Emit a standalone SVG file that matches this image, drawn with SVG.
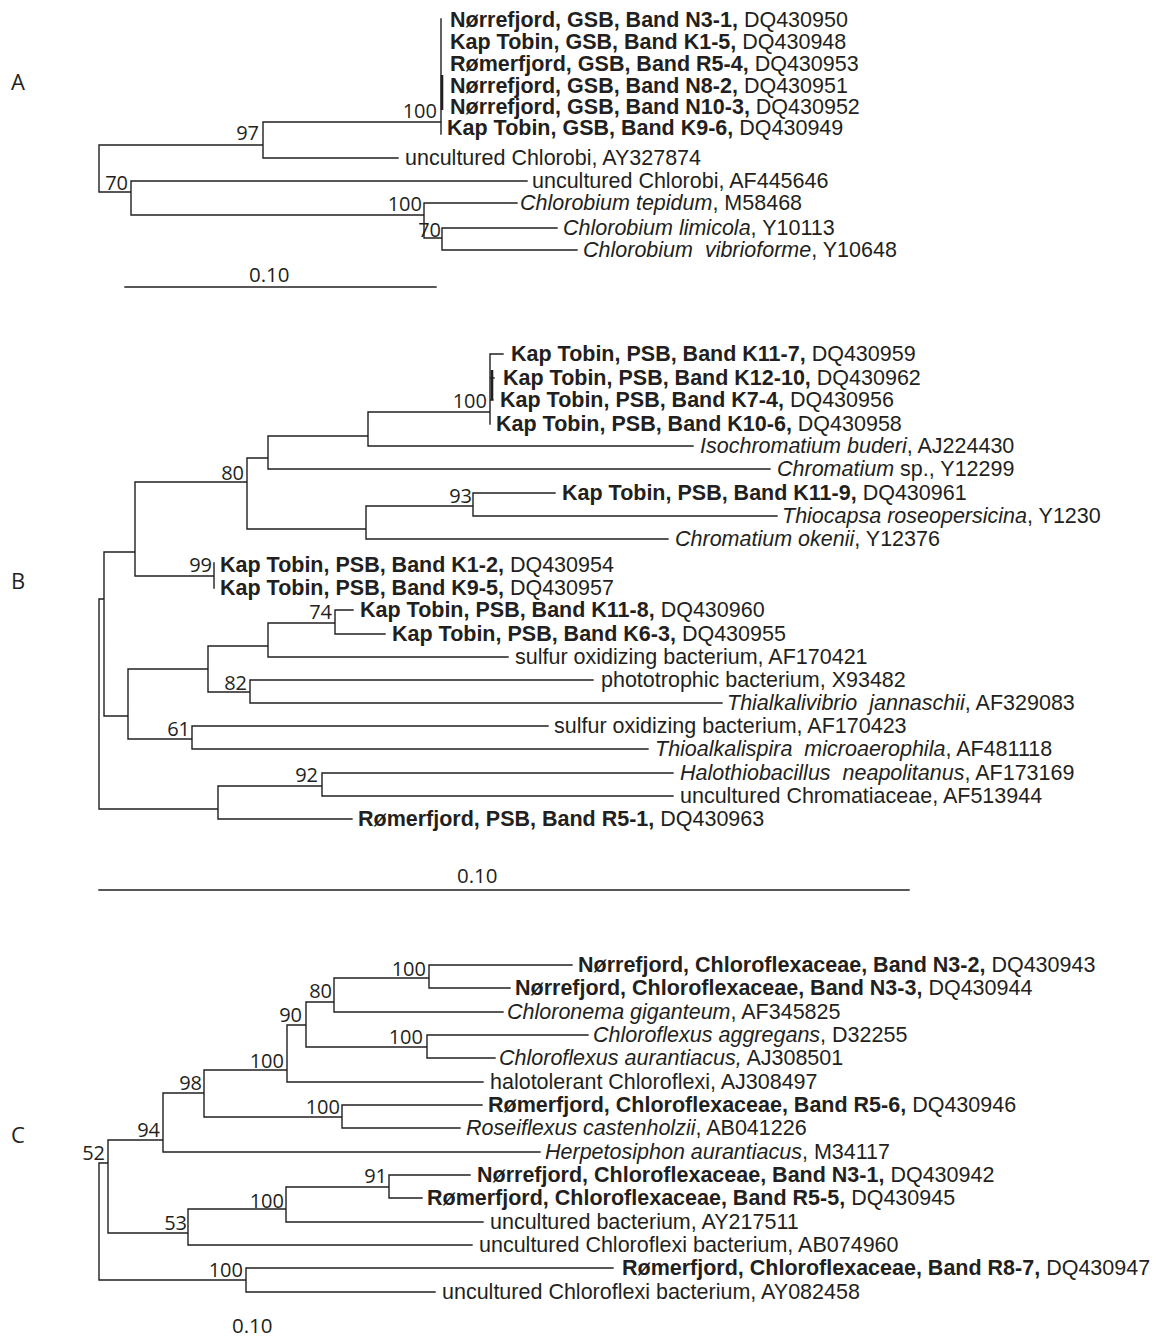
<svg xmlns="http://www.w3.org/2000/svg" width="1158" height="1338" viewBox="0 0 1158 1338">
<style>
.br{fill:none;stroke:#231f20;stroke-width:1.4;stroke-linecap:square}
.thick{fill:none;stroke:#231f20;stroke-width:2.6}
.lab{font-family:"Liberation Sans",Arial,sans-serif;font-size:21.5px;fill:#231f20}
.b{font-weight:bold}
.i{font-style:italic}
.bs{font-family:"Open Sans","Noto Sans",sans-serif;font-size:20px;fill:#231f20;text-anchor:end}
.sc{font-family:"Open Sans","Noto Sans",sans-serif;font-size:20.5px;fill:#231f20}
.pl{font-family:"Open Sans","Noto Sans",sans-serif;font-size:22px;fill:#231f20}
</style>
<rect width="1158" height="1338" fill="#ffffff"/>
<g id="connectors">
<path class="br" d="M99,145V192M99,145H263M99,192H131M263,122V158M263,122H441M263,158H398M441,19V134M131,181V215M131,181H527M131,215H424M424,203V238M424,203H517M424,238H442M442,228V250M442,228H557M442,250H577"/>
<path class="thick" d="M442,75V110"/>
<path class="br" d="M99,599V809M99,599H104M99,809H218M104,552V716M104,552H135M104,716H128M135,482V576M135,482H247M135,576H214M214,563V588M247,458V529M247,458H268M247,529H366M268,436V469M268,436H368M268,469H770M368,412V446M368,412H490M368,446H693M490,354V424M490,354H503M490,378H494M490,400H493M366,506V539M366,506H473M366,539H668M473,493V516M473,493H555M473,516H777M128,669V739M128,669H208M128,739H192M208,646V692M208,646H268M208,692H250M268,623V657M268,623H335M268,657H508M335,610V634M335,610H353M335,634H385M250,680V703M250,680H593M250,703H722M192,726V749M192,726H548M192,749H648M218,786V819M218,786H322M218,819H352M322,773V796M322,773H673M322,796H673"/>
<path class="thick" d="M492,370V400"/>
<path class="br" d="M99,1163V1280M99,1163H108M99,1280H246M108,1140V1233M108,1140H163M108,1233H188M163,1093V1152M163,1093H204M163,1152H540M204,1070V1117M204,1070H287M204,1117H342M287,1025V1082M287,1025H306M287,1082H483M306,1002V1047M306,1002H334M306,1047H427M334,978V1012M334,978H429M334,1012H503M429,965V988M429,965H572M429,988H510M427,1035V1058M427,1035H588M427,1058H495M342,1105V1128M342,1105H482M342,1128H460M188,1209V1245M188,1209H286M188,1245H472M286,1187V1222M286,1187H389M286,1222H483M389,1175V1198M389,1175H470M389,1198H422M246,1268V1292M246,1268H613M246,1292H435"/>
</g>
<g id="scalebars">
<path class="br" d="M125,287H436M99,890H909"/>
<text class="sc" x="249" y="282">0.10</text>
<text class="sc" x="457" y="883">0.10</text>
<text class="sc" x="232" y="1333">0.10</text>
</g>
<g id="panel-labels">
<text class="pl" x="11" y="90">A</text>
<text class="pl" x="11" y="589">B</text>
<text class="pl" x="11" y="1143">C</text>
</g>
<g id="panelA">
<g id="a1"><text class="lab" x="450" y="27"><tspan class="b">Nørrefjord, GSB, Band N3-1,</tspan> DQ430950</text></g>
<g id="a2"><text class="lab" x="450" y="49"><tspan class="b">Kap Tobin, GSB, Band K1-5,</tspan> DQ430948</text></g>
<g id="a3"><text class="lab" x="450" y="71"><tspan class="b">Rømerfjord, GSB, Band R5-4,</tspan> DQ430953</text></g>
<g id="a4"><text class="lab" x="450" y="93"><tspan class="b">Nørrefjord, GSB, Band N8-2,</tspan> DQ430951</text></g>
<g id="a5"><text class="lab" x="450" y="114"><tspan class="b">Nørrefjord, GSB, Band N10-3,</tspan> DQ430952</text></g>
<g id="a6"><text class="lab" x="447" y="135"><tspan class="b">Kap Tobin, GSB, Band K9-6,</tspan> DQ430949</text></g>
<g id="a7"><text class="lab" x="405" y="165">uncultured Chlorobi, AY327874</text></g>
<g id="a8"><text class="lab" x="532" y="188">uncultured Chlorobi, AF445646</text></g>
<g id="a9"><text class="lab" x="520" y="210"><tspan class="i">Chlorobium tepidum</tspan>, M58468</text></g>
<g id="a10"><text class="lab" x="563" y="235"><tspan class="i">Chlorobium limicola</tspan>, Y10113</text></g>
<g id="a11"><text class="lab" x="583" y="257" xml:space="preserve"><tspan class="i">Chlorobium  vibrioforme</tspan>, Y10648</text></g>
<g id="a-boot">
<text class="bs" x="437" y="118">100</text>
<text class="bs" x="259" y="140">97</text>
<text class="bs" x="128" y="190">70</text>
<text class="bs" x="422" y="211">100</text>
<text class="bs" x="441" y="237">70</text>
</g>
</g>
<g id="panelB">
<g id="b1"><text class="lab" x="511" y="361"><tspan class="b">Kap Tobin, PSB, Band K11-7,</tspan> DQ430959</text></g>
<g id="b2"><text class="lab" x="503" y="385"><tspan class="b">Kap Tobin, PSB, Band K12-10,</tspan> DQ430962</text></g>
<g id="b3"><text class="lab" x="500" y="407"><tspan class="b">Kap Tobin, PSB, Band K7-4,</tspan> DQ430956</text></g>
<g id="b4"><text class="lab" x="496" y="431"><tspan class="b">Kap Tobin, PSB, Band K10-6,</tspan> DQ430958</text></g>
<g id="b5"><text class="lab" x="700" y="453"><tspan class="i">Isochromatium buderi</tspan>, AJ224430</text></g>
<g id="b6"><text class="lab" x="777" y="476"><tspan class="i">Chromatium</tspan> sp., Y12299</text></g>
<g id="b7"><text class="lab" x="562" y="500"><tspan class="b">Kap Tobin, PSB, Band K11-9,</tspan> DQ430961</text></g>
<g id="b8"><text class="lab" x="782" y="523"><tspan class="i">Thiocapsa roseopersicina</tspan>, Y1230</text></g>
<g id="b9"><text class="lab" x="675" y="546"><tspan class="i">Chromatium okenii</tspan>, Y12376</text></g>
<g id="b10"><text class="lab" x="220" y="572"><tspan class="b">Kap Tobin, PSB, Band K1-2,</tspan> DQ430954</text></g>
<g id="b11"><text class="lab" x="220" y="595"><tspan class="b">Kap Tobin, PSB, Band K9-5,</tspan> DQ430957</text></g>
<g id="b12"><text class="lab" x="360" y="617"><tspan class="b">Kap Tobin, PSB, Band K11-8,</tspan> DQ430960</text></g>
<g id="b13"><text class="lab" x="392" y="641"><tspan class="b">Kap Tobin, PSB, Band K6-3,</tspan> DQ430955</text></g>
<g id="b14"><text class="lab" x="515" y="664">sulfur oxidizing bacterium, AF170421</text></g>
<g id="b15"><text class="lab" x="601" y="687">phototrophic bacterium, X93482</text></g>
<g id="b16"><text class="lab" x="727" y="710" xml:space="preserve"><tspan class="i">Thialkalivibrio  jannaschii</tspan>, AF329083</text></g>
<g id="b17"><text class="lab" x="554" y="733">sulfur oxidizing bacterium, AF170423</text></g>
<g id="b18"><text class="lab" x="655" y="756" xml:space="preserve"><tspan class="i">Thioalkalispira  microaerophila</tspan>, AF481118</text></g>
<g id="b19"><text class="lab" x="680" y="780" xml:space="preserve"><tspan class="i">Halothiobacillus  neapolitanus</tspan>, AF173169</text></g>
<g id="b20"><text class="lab" x="680" y="803">uncultured Chromatiaceae, AF513944</text></g>
<g id="b21"><text class="lab" x="358" y="826"><tspan class="b">Rømerfjord, PSB, Band R5-1,</tspan> DQ430963</text></g>
<g id="b-boot">
<text class="bs" x="487" y="408">100</text>
<text class="bs" x="244" y="480">80</text>
<text class="bs" x="472" y="503">93</text>
<text class="bs" x="212" y="572">99</text>
<text class="bs" x="332" y="619">74</text>
<text class="bs" x="247" y="690">82</text>
<text class="bs" x="190" y="736">61</text>
<text class="bs" x="318" y="782">92</text>
</g>
</g>
<g id="panelC">
<g id="c1"><text class="lab" x="578" y="972"><tspan class="b">Nørrefjord, Chloroflexaceae, Band N3-2,</tspan> DQ430943</text></g>
<g id="c2"><text class="lab" x="515" y="995"><tspan class="b">Nørrefjord, Chloroflexaceae, Band N3-3,</tspan> DQ430944</text></g>
<g id="c3"><text class="lab" x="507" y="1019"><tspan class="i">Chloronema giganteum</tspan>, AF345825</text></g>
<g id="c4"><text class="lab" x="593" y="1042"><tspan class="i">Chloroflexus aggregans</tspan>, D32255</text></g>
<g id="c5"><text class="lab" x="499" y="1065"><tspan class="i">Chloroflexus aurantiacus,</tspan> AJ308501</text></g>
<g id="c6"><text class="lab" x="490" y="1089">halotolerant Chloroflexi, AJ308497</text></g>
<g id="c7"><text class="lab" x="488" y="1112"><tspan class="b">Rømerfjord, Chloroflexaceae, Band R5-6,</tspan> DQ430946</text></g>
<g id="c8"><text class="lab" x="466" y="1135"><tspan class="i">Roseiflexus castenholzii</tspan>, AB041226</text></g>
<g id="c9"><text class="lab" x="545" y="1159"><tspan class="i">Herpetosiphon aurantiacus</tspan>, M34117</text></g>
<g id="c10"><text class="lab" x="477" y="1182"><tspan class="b">Nørrefjord, Chloroflexaceae, Band N3-1,</tspan> DQ430942</text></g>
<g id="c11"><text class="lab" x="427" y="1205"><tspan class="b">Rømerfjord, Chloroflexaceae, Band R5-5,</tspan> DQ430945</text></g>
<g id="c12"><text class="lab" x="490" y="1229">uncultured bacterium, AY217511</text></g>
<g id="c13"><text class="lab" x="479" y="1252">uncultured Chloroflexi bacterium, AB074960</text></g>
<g id="c14"><text class="lab" x="622" y="1275"><tspan class="b">Rømerfjord, Chloroflexaceae, Band R8-7,</tspan> DQ430947</text></g>
<g id="c15"><text class="lab" x="442" y="1299">uncultured Chloroflexi bacterium, AY082458</text></g>
<g id="c-boot">
<text class="bs" x="426" y="976">100</text>
<text class="bs" x="332" y="998">80</text>
<text class="bs" x="302" y="1022">90</text>
<text class="bs" x="423" y="1044">100</text>
<text class="bs" x="284" y="1068">100</text>
<text class="bs" x="202" y="1090">98</text>
<text class="bs" x="340" y="1114">100</text>
<text class="bs" x="160" y="1137">94</text>
<text class="bs" x="105" y="1160">52</text>
<text class="bs" x="387" y="1183">91</text>
<text class="bs" x="284" y="1208">100</text>
<text class="bs" x="187" y="1230">53</text>
<text class="bs" x="243" y="1277">100</text>
</g>
</g>
</svg>
